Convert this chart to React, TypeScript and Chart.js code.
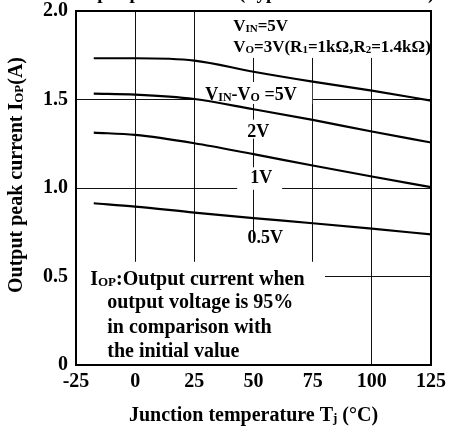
import React, { useEffect, useRef } from "react";
import { Chart, registerables } from "chart.js";

Chart.register(...registerables);

// Junction temperature (°C) at which each curve is sampled
const temperatures = [-17.5, 0, 25, 50, 75, 100, 125];

// Output peak current I_OP (A) for each input-output voltage difference
const current5V = [1.733, 1.733, 1.72, 1.657, 1.601, 1.55, 1.494];
const current2V = [1.533, 1.528, 1.503, 1.445, 1.385, 1.319, 1.257];
const current1V = [1.313, 1.3, 1.253, 1.191, 1.127, 1.065, 1.005];
const current05V = [0.914, 0.895, 0.861, 0.83, 0.801, 0.77, 0.738];

const seriesNames = ["5V", "2V", "1V", "0.5V"];

// Axis ranges and tick steps
const xRange = [-25, 125];
const xStep = 25;
const yRange = [0, 2];
const yStep = 0.5;

const FAMILY = "'Liberation Serif', 'Times New Roman', serif";

type Run = { t: string; sub?: boolean };

function runFont(size: number, sub?: boolean) {
  return `bold ${sub ? Math.round(size * 0.66) : size}px ${FAMILY}`;
}

function richWidth(ctx: CanvasRenderingContext2D, runs: Run[], size: number) {
  let w = 0;
  for (const r of runs) {
    ctx.font = runFont(size, r.sub);
    w += ctx.measureText(r.t).width;
  }
  return w;
}

function drawRich(
  ctx: CanvasRenderingContext2D,
  runs: Run[],
  x: number,
  y: number,
  size: number,
  align: "left" | "center" = "left"
) {
  const w = richWidth(ctx, runs, size);
  let cx = align === "center" ? x - w / 2 : x;
  ctx.textBaseline = "alphabetic";
  ctx.textAlign = "left";
  for (const r of runs) {
    ctx.font = runFont(size, r.sub);
    ctx.fillText(r.t, cx, y + (r.sub ? 1 : 0));
    cx += ctx.measureText(r.t).width;
  }
}

// White panels behind the annotations, in data coordinates [x0, y0, x1, y1]
const panels: number[][] = [
  [39.3, 2.0, 125, 1.735],
  [26.9, 1.599, 74.8, 1.475],
  [45.7, 1.386, 58.3, 1.279],
  [43.1, 1.117, 62.1, 0.99],
  [46.1, 0.719, 63.8, 0.578],
  [-25, 0.583, 80.2, 0],
];

const annotationPlugin = {
  id: "annotations",
  beforeDatasetsDraw(chart: any) {
    const { ctx, scales } = chart;
    const xs = scales.x;
    const ys = scales.y;
    ctx.save();
    ctx.fillStyle = "#fff";
    for (const [x0, y0, x1, y1] of panels) {
      const px0 = xs.getPixelForValue(x0);
      const px1 = xs.getPixelForValue(x1);
      const py0 = ys.getPixelForValue(y0);
      const py1 = ys.getPixelForValue(y1);
      ctx.fillRect(px0, py0, px1 - px0, py1 - py0);
    }
    ctx.restore();
  },
  afterDraw(chart: any) {
    const { ctx, scales, chartArea } = chart;
    const xs = scales.x;
    const ys = scales.y;
    const X = (v: number) => xs.getPixelForValue(v);
    const Y = (v: number) => ys.getPixelForValue(v);
    ctx.save();
    ctx.fillStyle = "#000";

    // plot frame
    ctx.strokeStyle = "#000";
    ctx.lineWidth = 2;
    ctx.strokeRect(
      chartArea.left,
      chartArea.top,
      chartArea.right - chartArea.left,
      chartArea.bottom - chartArea.top
    );

    // heading (runs off the top edge)
    drawRich(ctx, [{ t: "Output peak current (Typical characteristics)" }], 250, -1, 19, "center");

    // measurement conditions
    drawRich(ctx, [{ t: "V" }, { t: "IN", sub: true }, { t: "=5V" }], X(41.4), Y(1.887), 17);
    drawRich(
      ctx,
      [
        { t: "V" },
        { t: "O", sub: true },
        { t: "=3V(R" },
        { t: "1", sub: true },
        { t: "=1kΩ,R" },
        { t: "2", sub: true },
        { t: "=1.4kΩ)" },
      ],
      X(41.4),
      Y(1.768),
      17
    );

    // curve labels
    drawRich(
      ctx,
      [{ t: "V" }, { t: "IN", sub: true }, { t: "-V" }, { t: "O", sub: true }, { t: " =" + seriesNames[0] }],
      X(29.6),
      Y(1.5),
      18
    );
    drawRich(ctx, [{ t: seriesNames[1] }], X(52.0), Y(1.289), 18, "center");
    drawRich(ctx, [{ t: seriesNames[2] }], X(53.3), Y(1.03), 18, "center");
    drawRich(ctx, [{ t: seriesNames[3] }], X(55.0), Y(0.69), 18, "center");

    // note
    drawRich(ctx, [{ t: "I" }, { t: "OP", sub: true }, { t: ":Output current when" }], X(-19.0), Y(0.453), 20);
    drawRich(ctx, [{ t: "output voltage is 95%" }], X(-11.8), Y(0.323), 20);
    drawRich(ctx, [{ t: "in comparison with" }], X(-11.8), Y(0.182), 20);
    drawRich(ctx, [{ t: "the initial value" }], X(-11.8), Y(0.047), 20);

    // x-axis title
    drawRich(
      ctx,
      [{ t: "Junction temperature T" }, { t: "j", sub: true }, { t: " (°C)" }],
      (chartArea.left + chartArea.right) / 2,
      421,
      20,
      "center"
    );

    // y-axis title
    ctx.translate(22, 175);
    ctx.rotate(-Math.PI / 2);
    drawRich(
      ctx,
      [{ t: "Output peak current I" }, { t: "OP", sub: true }, { t: "(A)" }],
      0,
      0,
      20,
      "center"
    );
    ctx.restore();
  },
};

export default function App() {
  const canvasRef = useRef<HTMLCanvasElement | null>(null);

  useEffect(() => {
    const canvas = canvasRef.current;
    if (!canvas) return;
    const mk = (values: number[]) => ({
      data: temperatures.map((t, i) => ({ x: t, y: values[i] })),
      borderColor: "#000",
      borderWidth: 2.2,
      pointRadius: 0,
      fill: false,
      cubicInterpolationMode: "monotone" as const,
    });
    const tickFont = { family: FAMILY, size: 20, weight: "bold" as const };
    const chart = new Chart(canvas, {
      type: "line",
      data: {
        datasets: [mk(current5V), mk(current2V), mk(current1V), mk(current05V)].map((d, i) => ({
          ...d,
          label: seriesNames[i],
        })),
      },
      options: {
        responsive: false,
        maintainAspectRatio: false,
        animation: false,
        layout: { padding: { top: 11, right: 18, left: 0, bottom: 0 } },
        plugins: {
          legend: { display: false },
          tooltip: { enabled: false },
          title: { display: false },
        },
        scales: {
          x: {
            type: "linear",
            min: xRange[0],
            max: xRange[1],
            ticks: {
              stepSize: xStep,
              color: "#000",
              font: tickFont,
              padding: 5,
              maxRotation: 0,
              autoSkip: false,
              callback: (v: any) => String(v),
            },
            grid: { color: "#111", lineWidth: 1, drawTicks: false },
            border: { display: false },
            afterFit: (s: any) => {
              s.height = 67;
              s.paddingLeft = 0;
              s.paddingRight = 0;
            },
          },
          y: {
            type: "linear",
            min: yRange[0],
            max: yRange[1],
            ticks: {
              stepSize: yStep,
              color: "#000",
              font: tickFont,
              padding: 8,
              autoSkip: false,
              callback: (v: any) => (Number(v) === 0 ? "0" : Number(v).toFixed(1)),
            },
            grid: { color: "#111", lineWidth: 1, drawTicks: false },
            border: { display: false },
            afterFit: (s: any) => {
              s.width = 76;
              s.paddingTop = 0;
              s.paddingBottom = 0;
            },
          },
        },
      },
      plugins: [annotationPlugin],
    });
    return () => chart.destroy();
  }, []);

  return (
    <div style={{ position: "fixed", left: 0, top: 0, width: 449, height: 432, background: "#fff" }}>
      <canvas ref={canvasRef} width={449} height={432} style={{ width: 449, height: 432, display: "block" }} />
    </div>
  );
}
